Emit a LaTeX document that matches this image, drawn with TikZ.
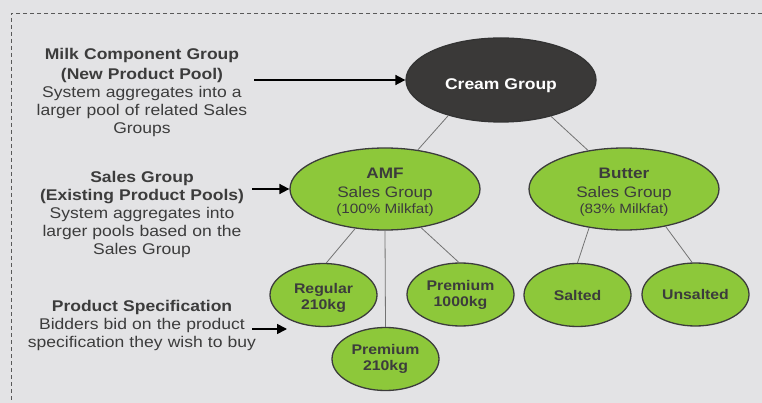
\documentclass[tikz,border=0pt]{standalone}
\usepackage{fontspec}
\setmainfont{Liberation Sans}[FakeStretch=1.13]
\usetikzlibrary{positioning,shapes.geometric,arrows.meta}

\definecolor{bggray}{HTML}{E3E3E5}
\definecolor{leaf}{HTML}{8DC83A}
\definecolor{cream}{HTML}{3A3938}
\definecolor{ink}{HTML}{3C3C3C}

\begin{document}
\begin{tikzpicture}[x=1pt,y=-1pt,
	grp/.style={ellipse,draw=ink,line width=1.3pt,fill=leaf,text=ink,inner sep=0pt,align=center},
	big/.style={grp,minimum width=190pt,minimum height=82pt,font=\fontsize{15.2}{18}\selectfont},
	small/.style={grp,minimum width=107pt,minimum height=63pt,font=\fontsize{14}{16}\selectfont\bfseries},
	note/.style={text width=240pt,inner sep=0pt,align=center,text=ink,font=\fontsize{15.5}{18}\selectfont},
	edge/.style={draw=black!55,line width=0.8pt},
	arr/.style={-{Triangle[length=10pt,width=10pt]},line width=1.7pt}]

\useasboundingbox (0,0) rectangle (762,403);
\fill[bggray] (0,0) rectangle (762,403);
\draw[black!65,line width=0.8pt,dash pattern=on 4pt off 3pt] (762,13) -- (11,13) -- (11,403);

\node[grp,fill=cream,draw=black!80,text=white,minimum width=190pt,minimum height=84pt,font=\fontsize{15.5}{18}\selectfont\bfseries](cream) at (501,80) {\rule{0pt}{23pt}Cream Group};
\node[big](amf) at (385,189) {\rule{0pt}{17pt}\textbf{AMF}\\[1pt]Sales Group\\[-2pt]{\fontsize{13.5}{16}\selectfont(100\% Milkfat)}};
\node[big](butter) at (624,189) {\rule{0pt}{17pt}\textbf{Butter}\\[1pt]Sales Group\\[-2pt]{\fontsize{13.5}{16}\selectfont(83\% Milkfat)}};

\node[small](reg) at (323.5,295) {\rule{0pt}{16pt}Regular\\210kg};
\node[small](p210) at (385.5,359) {Premium\\210kg};
\node[small](p1000) at (460.5,294.5) {Premium\\1000kg};
\node[small](salted) at (577.5,295) {Salted};
\node[small](unsalted) at (695.5,294.5) {Unsalted};

\foreach \a/\b in {cream.214/amf.50,cream.324/butter.133,amf.233/reg.85,amf.south/p210.north,amf.313/p1000.93,butter.228/salted.90,butter.318/unsalted.96}
	\draw[edge](\a)--(\b);

\node[note](milk) at (142,92) {\textbf{Milk Component Group}\\[2pt]\textbf{(New Product Pool)}\\System aggregates into a\\larger pool of related Sales\\Groups};
\node[note](sales) at (142,214) {\textbf{Sales Group}\\\textbf{(Existing Product Pools)}\\System aggregates into\\larger pools based on the\\Sales Group};
\node[note](spec) at (142,325) {\textbf{Product Specification}\\Bidders bid on the product\\specification they wish to buy};

\coordinate (tip) at (287,329);
\draw[arr]([xshift=-8pt]milk.east |- cream.west)--(cream.west);
\draw[arr]([xshift=-10pt]sales.east |- amf.west)--(amf.west);
\draw[arr]([xshift=-10pt]spec.east |- tip)--(tip);

\end{tikzpicture}
\end{document}
